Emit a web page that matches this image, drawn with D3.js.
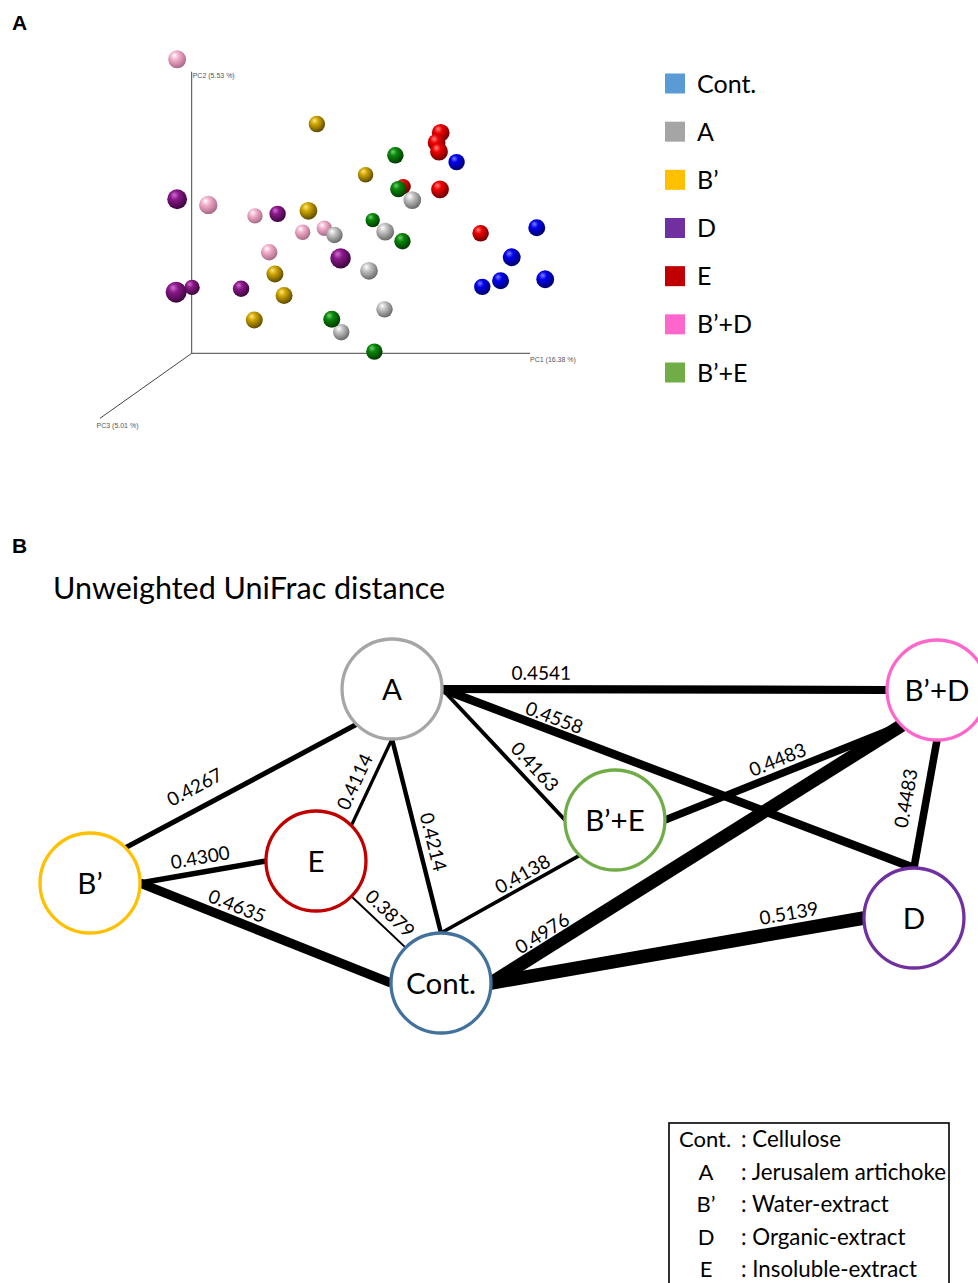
<!DOCTYPE html>
<html>
<head>
<meta charset="utf-8">
<script src="https://cdn.jsdelivr.net/npm/d3@7"></script>
<style>
  body { margin: 0; background: #fff; }
  svg { display: block; }
</style>
</head>
<body>
<div id="chart"></div>
<script>
// ---- data ----------------------------------------------------------
var groups = ["Cont.", "A", "B\u2019", "D", "E", "B\u2019+D", "B\u2019+E"];

// PCoA points: [PC1, PC2, PC3] as seen in the projected view
var pcoaCont = [[78.3, 67.9, 2.9], [102.0, 44.6, 3.7], [94.6, 34.1, 4.9], [91.3, 25.8, 3.7], [104.5, 26.3, 4.9], [85.9, 23.6, 2.9]];
var pcoaA    = [[65.2, 54.4, 4.9], [42.2, 42.0, 2.9], [57.2, 43.2, 4.9], [52.4, 29.3, 4.9], [57.0, 15.6, 2.9], [44.2, 7.5, 2.9]];
var pcoaB    = [[37.0, 81.4, 2.9], [51.4, 63.4, 1.4], [34.5, 50.6, 4.9], [24.6, 28.2, 3.7], [27.3, 20.5, 3.7], [18.5, 11.8, 3.7]];
var pcoaD    = [[-4.3, 54.7, 7.7], [25.4, 49.5, 2.9], [44.0, 33.7, 8.6], [-4.6, 21.7, 9.4], [0.1, 23.4, 1.4], [14.6, 22.9, 2.9]];
var pcoaE    = [[73.6, 78.3, 4.9], [72.4, 74.8, 4.9], [73.1, 71.6, 4.9], [62.5, 59.2, 1.4], [73.4, 58.2, 4.9], [85.4, 42.6, 2.9]];
var pcoaBD   = [[-4.3, 104.4, 5.0], [4.9, 52.7, 5.7], [18.7, 48.8, 1.4], [32.8, 43.0, 1.4], [39.2, 44.4, 1.4], [22.9, 35.9, 2.9]];
var pcoaBE   = [[60.2, 70.3, 2.9], [61.1, 58.3, 2.9], [53.5, 47.3, 0.0], [62.3, 39.8, 2.9], [41.4, 12.1, 3.7], [54.0, 0.6, 2.9]];
var pcoaPoints = [pcoaCont, pcoaA, pcoaB, pcoaD, pcoaE, pcoaBD, pcoaBE];
var axisLabels = ["PC1 (16.38 %)", "PC2 (5.53 %)", "PC3 (5.01 %)"];

// Unweighted UniFrac network
var nodes = ["A", "B\u2019", "E", "Cont.", "B\u2019+E", "B\u2019+D", "D"];
var edgeSource = ["A", "B\u2019", "B\u2019", "A", "A", "E", "Cont.", "A", "A", "A", "B\u2019+E", "Cont.", "Cont.", "B\u2019+D"];
var edgeTarget = ["B\u2019", "E", "Cont.", "E", "Cont.", "Cont.", "B\u2019+E", "B\u2019+E", "B\u2019+D", "D", "B\u2019+D", "B\u2019+D", "D", "D"];
var distances  = [0.4267, 0.4300, 0.4635, 0.4114, 0.4214, 0.3879, 0.4138, 0.4163, 0.4541, 0.4558, 0.4483, 0.4976, 0.5139, 0.4483];

var legendKeys = ["Cont.", "A", "B\u2019", "D", "E"];
var legendNames = ["Cellulose", "Jerusalem artichoke", "Water-extract", "Organic-extract", "Insoluble-extract"];

// ---- layout / style ------------------------------------------------
var legendColors = ["#5b9bd5", "#a5a5a5", "#ffc000", "#7030a0", "#c00000", "#ff66cc", "#70ad47"];
var sphereColors = [
  ["#8080ff", "#0000ee", "#00006a"],
  ["#ffffff", "#c4c4c4", "#6a6a6a"],
  ["#ffe680", "#cfa600", "#5e4a00"],
  ["#d070d0", "#8a188a", "#3c063c"],
  ["#ff8080", "#ee0000", "#700000"],
  ["#ffffff", "#f4b0cc", "#a86a88"],
  ["#70d070", "#0a880a", "#023a02"]
];
var nodeColor = { "A": "#a6a6a6", "B\u2019": "#ffc000", "E": "#c00000", "Cont.": "#41719c",
                  "B\u2019+E": "#70ad47", "B\u2019+D": "#ff66cc", "D": "#7030a0" };
var nodePos = { "A": [35.66, 0], "B\u2019": [0, 65.99], "E": [26.68, 58.5], "Cont.": [41.44, 100],
                "B\u2019+E": [61.98, 44.56], "B\u2019+D": [100, 0.34], "D": [97.28, 77.89] };
// connector ports (deg) at source / target, label position along edge and distance from line
var edgePorts = [[135, -45], [0, 180], [0, 180], [90, -45], [90, -90], [45, -135], [-90, 135],
                 [0, 180], [0, 180], [0, -90], [0, 135], [0, 135], [0, 180], [90, -90]];
var labelT = [0.658, 0.498, 0.365, 0.570, 0.549, 0.533, 0.629, 0.669, 0.223, 0.228, 0.498, 0.144, 0.807, 0.484];
var labelD = [21, 15, 14.6, 15.7, 14.9, 14.2, 11.7, 14.6, 16.3, 13.1, 14.3, 15.1, 17.7, 20.4];

var svg = d3.select("#chart").append("svg")
  .attr("width", 978)
  .attr("height", 1283)
  .style("background", "#fff");

var font = "Lato, 'Open Sans', sans-serif";

// panel letters
svg.append("text").attr("x", 12).attr("y", 30).text("A")
  .style("font-family", "Arial, 'Liberation Sans', sans-serif").style("font-weight", "bold").style("font-size", "21px");
svg.append("text").attr("x", 12).attr("y", 553).text("B")
  .style("font-family", "Arial, 'Liberation Sans', sans-serif").style("font-weight", "bold").style("font-size", "21px");

// ---- panel A: PCoA ---------------------------------------------------
var x = d3.scaleLinear().domain([0, 100]).range([191.7, 530]);
var y = d3.scaleLinear().domain([0, 100]).range([353.3, 71.7]);
var r = d3.scaleLinear().domain([0, 10]).range([7.2, 10.7]);
var z = d3.scaleLinear().domain([0, 100]).range([0, 1]); // PC3 axis length in projected units

var defs = svg.append("defs");
sphereColors.forEach(function(c, i) {
  var g = defs.append("radialGradient")
    .attr("id", "sph" + i)
    .attr("cx", "40%").attr("cy", "35%").attr("r", "65%")
    .attr("fx", "35%").attr("fy", "28%");
  g.append("stop").attr("offset", "0%").attr("stop-color", c[0]);
  g.append("stop").attr("offset", "35%").attr("stop-color", c[1]);
  g.append("stop").attr("offset", "100%").attr("stop-color", c[2]);
});

var axes = svg.append("g").attr("stroke", "#444").attr("stroke-width", 1);
axes.append("line").attr("x1", x(0)).attr("y1", y(0)).attr("x2", x(100)).attr("y2", y(0));
axes.append("line").attr("x1", x(0)).attr("y1", y(0)).attr("x2", x(0)).attr("y2", y(100));
// PC3 axis drawn in oblique projection
axes.append("line").attr("x1", x(0)).attr("y1", y(0))
  .attr("x2", x(0) - 91.7 * z(100)).attr("y2", y(0) + 65 * z(100));

var axFont = "Arial, 'Liberation Sans', sans-serif";
svg.append("text").attr("x", x(100)).attr("y", y(0) + 9).text(axisLabels[0])
  .style("font-family", axFont).style("font-size", "7px").attr("fill", "#555");
svg.append("text").attr("x", x(0) + 1).attr("y", y(100) + 6).text(axisLabels[1])
  .style("font-family", axFont).style("font-size", "7px").attr("fill", "#555");
svg.append("text").attr("x", 96.5).attr("y", 428).text(axisLabels[2])
  .style("font-family", axFont).style("font-size", "7px").attr("fill", "#555");

var allPts = [];
pcoaPoints.forEach(function(arr, gi) {
  arr.forEach(function(p) { allPts.push({ g: gi, pc1: p[0], pc2: p[1], pc3: p[2] }); });
});
allPts.sort(function(a, b) { return a.pc3 - b.pc3; });

svg.append("g").selectAll("circle")
  .data(allPts)
  .enter()
  .append("circle")
  .attr("cx", d => x(d.pc1))
  .attr("cy", d => y(d.pc2))
  .attr("r", d => r(d.pc3))
  .attr("fill", d => "url(#sph" + d.g + ")");

// legend
var leg = svg.append("g");
var legY = d3.scalePoint().domain(groups).range([83.5, 372.5]);
leg.selectAll("rect").data(groups).enter().append("rect")
  .attr("x", 665).attr("y", d => legY(d) - 10)
  .attr("width", 20).attr("height", 20)
  .attr("fill", (d, i) => legendColors[i]);
leg.selectAll("text").data(groups).enter().append("text")
  .attr("x", 697).attr("y", d => legY(d)).attr("dy", "0.36em")
  .text(d => d)
  .style("font-family", font).style("font-size", "25px");

// ---- panel B: network --------------------------------------------------
svg.append("text").attr("x", 53).attr("y", 599).text("Unweighted UniFrac distance")
  .style("font-family", font).style("font-size", "30.5px");

var nx = d3.scaleLinear().domain([0, 100]).range([90, 937]);
var ny = d3.scaleLinear().domain([0, 100]).range([689, 983]);
var width = d3.scaleLinear().domain([0.40, 0.50]).range([2, 13.5]).clamp(true);
var nodeR = 50;

function port(name, deg) {
  var a = deg * Math.PI / 180;
  return [nx(nodePos[name][0]) + nodeR * Math.cos(a), ny(nodePos[name][1]) + nodeR * Math.sin(a)];
}

var edges = distances.map(function(v, i) {
  var p0 = port(edgeSource[i], edgePorts[i][0]);
  var p1 = port(edgeTarget[i], edgePorts[i][1]);
  return { v: v, p0: p0, p1: p1, t: labelT[i], d: labelD[i] };
});

var edgeG = svg.append("g");
edgeG.selectAll("line").data(edges).enter().append("line")
  .attr("x1", d => d.p0[0]).attr("y1", d => d.p0[1])
  .attr("x2", d => d.p1[0]).attr("y2", d => d.p1[1])
  .attr("stroke", "#000")
  .attr("stroke-width", d => width(d.v));

edgeG.selectAll("text").data(edges).enter().append("text")
  .attr("transform", function(d) {
    var dx = d.p1[0] - d.p0[0], dy = d.p1[1] - d.p0[1];
    var ang = Math.atan2(dy, dx) * 180 / Math.PI;
    if (ang > 90) ang -= 180;
    if (ang < -90) ang += 180;
    var a = ang * Math.PI / 180;
    var cx = d.p0[0] + d.t * dx + d.d * Math.sin(a);
    var cy = d.p0[1] + d.t * dy - d.d * Math.cos(a);
    return "translate(" + cx + "," + cy + ") rotate(" + ang + ")";
  })
  .attr("text-anchor", "middle")
  .attr("dy", "0.36em")
  .text(d => d.v.toFixed(4))
  .style("font-family", font).style("font-size", "19px");

var nodeG = svg.append("g").selectAll("g").data(nodes).enter().append("g")
  .attr("transform", d => "translate(" + nx(nodePos[d][0]) + "," + ny(nodePos[d][1]) + ")");
nodeG.append("circle")
  .attr("r", nodeR)
  .attr("fill", "#fff")
  .attr("stroke", d => nodeColor[d])
  .attr("stroke-width", 3.3);
nodeG.append("text")
  .attr("text-anchor", "middle")
  .attr("dy", "0.36em")
  .text(d => d)
  .style("font-family", font).style("font-size", "29.5px");

// abbreviation box
var box = svg.append("g");
box.append("rect").attr("x", 669).attr("y", 1123).attr("width", 280).attr("height", 180)
  .attr("fill", "none").attr("stroke", "#000").attr("stroke-width", 1.6);
var rowY = d3.scalePoint().domain(legendKeys).range([1147, 1277]);
box.selectAll("text.key").data(legendKeys).enter().append("text")
  .attr("class", "key")
  .attr("x", (d, i) => i === 0 ? 679 : 706)
  .attr("text-anchor", (d, i) => i === 0 ? "start" : "middle")
  .attr("y", d => rowY(d))
  .text(d => d)
  .style("font-family", font).style("font-size", "22px");
box.selectAll("text.desc").data(legendKeys).enter().append("text")
  .attr("class", "desc")
  .attr("x", 741)
  .attr("y", d => rowY(d))
  .text((d, i) => ": " + legendNames[i])
  .style("font-family", font).style("font-size", "22.3px");
</script>
</body>
</html>
